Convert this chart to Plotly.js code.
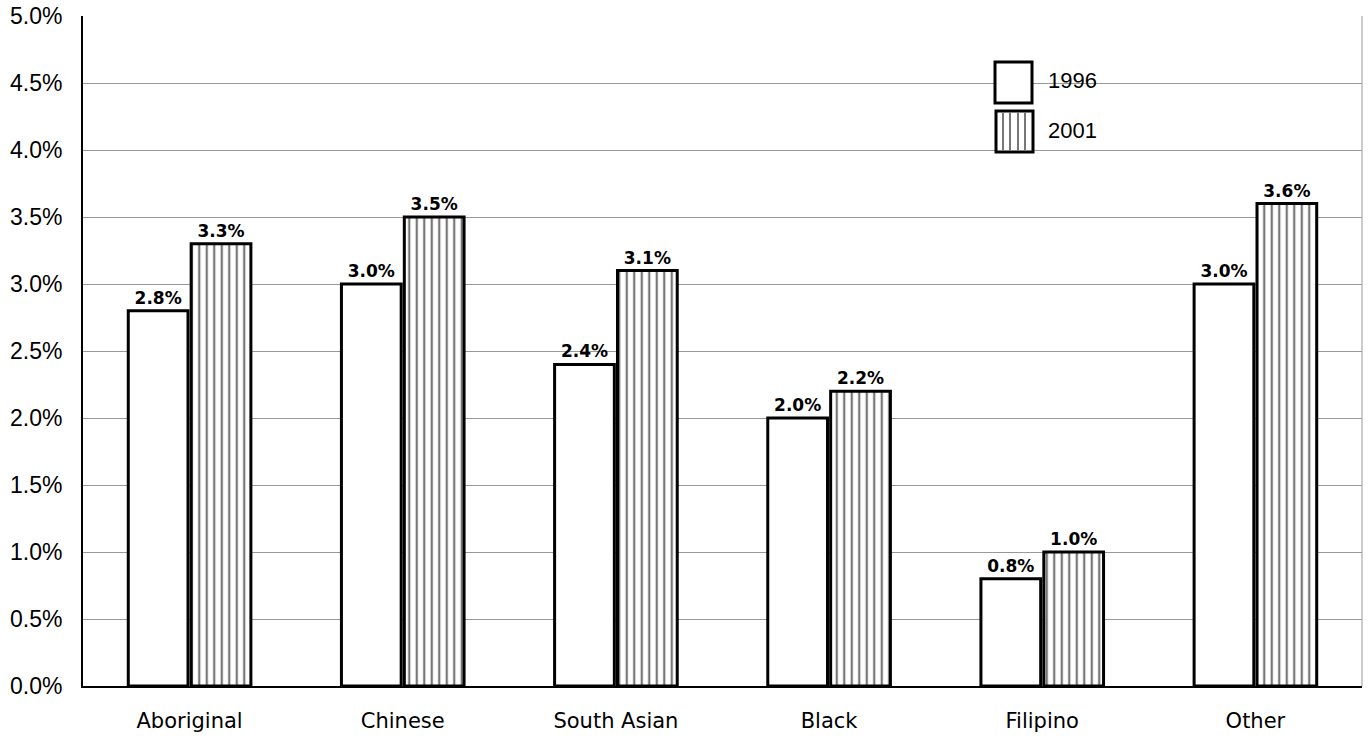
<!DOCTYPE html>
<html>
<head>
<meta charset="utf-8">
<script src="https://cdn.plot.ly/plotly-3.0.1.min.js"></script>
<style>html,body{margin:0;padding:0;background:#fff;}#chart{width:1370px;height:738px;}</style>
</head>
<body>
<div id="chart"></div>
<script>
var categories = ["Aboriginal", "Chinese", "South Asian", "Black", "Filipino", "Other"];
var values1996 = [0.028, 0.030, 0.024, 0.020, 0.008, 0.030];
var values2001 = [0.033, 0.035, 0.031, 0.022, 0.010, 0.036];
var seriesNames = ["1996", "2001"];
var yTicks = [0, 0.005, 0.01, 0.015, 0.02, 0.025, 0.03, 0.035, 0.04, 0.045, 0.05];

var labelFont = {family: "DejaVu Sans, sans-serif", size: 17, color: "#000", weight: "bold"};

var traces = [
  {
    type: "bar", name: seriesNames[0], x: categories, y: values1996,
    marker: {color: "#fff", line: {color: "#000", width: 3}},
    texttemplate: "<b>%{y:.1%}</b>", textposition: "outside", textfont: labelFont,
    cliponaxis: false, showlegend: false, hoverinfo: "x+y"
  },
  {
    type: "bar", name: seriesNames[1], x: categories, y: values2001,
    marker: {color: "#fff", line: {color: "#000", width: 3},
      pattern: {shape: "|", fgcolor: "#777", bgcolor: "#fff", size: 7.5, solidity: 0.3}},
    texttemplate: "<b>%{y:.1%}</b>", textposition: "outside", textfont: labelFont,
    cliponaxis: false, showlegend: false, hoverinfo: "x+y"
  }
];

var shapes = [
  {type: "line", xref: "paper", yref: "paper", x0: 1, x1: 1, y0: 0, y1: 1, line: {color: "#999", width: 1}},
  {type: "rect", xref: "paper", yref: "paper", x0: (995-83)/1279, x1: (1032-83)/1279, y0: (686-103)/670, y1: (686-62)/670, line: {color: "#000", width: 3}, fillcolor: "#fff"},
  {type: "rect", xref: "paper", yref: "paper", x0: (996-83)/1279, x1: (1033-83)/1279, y0: (686-152)/670, y1: (686-111)/670, line: {color: "#000", width: 3}, fillcolor: "#fff"}
];
[1003, 1010, 1018, 1025].forEach(function(px){
  shapes.push({type: "line", xref: "paper", yref: "paper", x0: (px-83)/1279, x1: (px-83)/1279, y0: (686-151)/670, y1: (686-112)/670, line: {color: "#777", width: 2}});
});

var annotations = [
  {xref: "paper", yref: "paper", x: (1046-83)/1279, y: (686-80)/670, xanchor: "left", yanchor: "middle", text: seriesNames[0], showarrow: false, font: {family: "Liberation Sans, Arial, sans-serif", size: 22, color: "#000"}},
  {xref: "paper", yref: "paper", x: (1046-83)/1279, y: (686-130)/670, xanchor: "left", yanchor: "middle", text: seriesNames[1], showarrow: false, font: {family: "Liberation Sans, Arial, sans-serif", size: 22, color: "#000"}}
];

var layout = {
  width: 1370, height: 738,
  margin: {l: 83, r: 8, t: 16, b: 52},
  paper_bgcolor: "#fff", plot_bgcolor: "#fff",
  barmode: "group", bargap: 0.41, bargroupgap: 0.05,
  showlegend: false,
  xaxis: {
    showline: true, linecolor: "#000", linewidth: 2,
    ticks: "", showgrid: false, ticklabelstandoff: 15,
    tickfont: {family: "DejaVu Sans, sans-serif", size: 21, color: "#000"}
  },
  yaxis: {
    range: [0, 0.05], tickvals: yTicks, tickformat: ".1%",
    showline: true, linecolor: "#000", linewidth: 2,
    showgrid: true, gridcolor: "#999", gridwidth: 1,
    ticks: "", ticklabelstandoff: 14, zeroline: false,
    tickfont: {family: "Liberation Sans, Arial, sans-serif", size: 23, color: "#000"}
  },
  shapes: shapes,
  annotations: annotations
};

Plotly.newPlot("chart", traces, layout, {displayModeBar: false, staticPlot: true});
</script>
</body>
</html>
